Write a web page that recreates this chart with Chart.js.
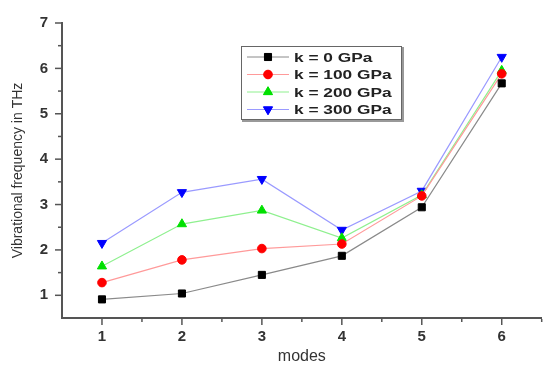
<!DOCTYPE html>
<html>
<head>
<meta charset="utf-8">
<script src="https://cdn.jsdelivr.net/npm/chart.js@4"></script>
<style>
html,body{margin:0;padding:0;background:#fff;overflow:hidden}
#wrap{width:548px;height:369px}
</style>
</head>
<body>
<div id="wrap"><canvas id="c" width="548" height="369"></canvas></div>
<script>
// modes on the x axis, frequency (THz) per stiffness k
const modes=[1,2,3,4,5,6];
const k0=[0.91,1.04,1.45,1.87,2.94,5.67];
const k100=[1.28,1.78,2.03,2.13,3.19,5.88];
const k200=[1.64,2.57,2.87,2.26,3.21,5.95];
const k300=[2.15,3.27,3.56,2.44,3.30,6.25];
const names=['k = 0 GPa','k = 100 GPa','k = 200 GPa','k = 300 GPa'];
const yTicks=[1,2,3,4,5,6,7];

const S=[
  {vals:k0,line:'#8a8a8a',pt:'#000',style:'rect',r:5,rot:0},
  {vals:k100,line:'#ff9a9a',pt:'#ff0000',style:'circle',r:4.3,rot:0},
  {vals:k200,line:'#8ff08f',pt:'#00e000',style:'triangle',r:5.3,rot:0},
  {vals:k300,line:'#9a9aff',pt:'#0000ff',style:'triangle',r:5.3,rot:180}
];

const ticksPlugin={id:'ticks',afterDraw(ch){
  const c=ch.ctx,x=ch.scales.x,y=ch.scales.y,a=ch.chartArea;
  c.save();c.strokeStyle='#555';c.lineWidth=1.5;
  for(let v=1;v<=7;v+=0.5){const p=y.getPixelForValue(v),L=Number.isInteger(v)?6:3;
    c.beginPath();c.moveTo(a.left-1,p);c.lineTo(a.left-1-L,p);c.stroke();}
  for(let v=1;v<=6.5;v+=0.5){const p=x.getPixelForValue(v),L=Number.isInteger(v)?6:3;
    c.beginPath();c.moveTo(p,a.bottom+1);c.lineTo(p,a.bottom+1+L);c.stroke();}
  c.restore();
}};

const legendPlugin={id:'box',afterDraw(ch){
  const c=ch.ctx;
  c.save();
  c.fillStyle='#fff';c.fillRect(241,46,161,74);
  c.strokeStyle='#999';c.lineWidth=2;c.beginPath();
  c.moveTo(403,47);c.lineTo(403,121);c.lineTo(242,121);c.stroke();
  c.strokeStyle='#666';c.lineWidth=1;c.strokeRect(241.5,46.5,160,73);
  S.forEach((s,i)=>{
    const yy=57+i*17.5;
    c.strokeStyle=s.line;c.lineWidth=1;c.beginPath();c.moveTo(247,yy);c.lineTo(289,yy);c.stroke();
    c.fillStyle=s.pt;c.strokeStyle=s.pt;
    Chart.helpers.drawPoint(c,{pointStyle:s.style,radius:s.r,rotation:s.rot,borderWidth:1},268,yy);
    c.fill();
    c.save();c.translate(294,yy);c.scale(1.33,1);
    c.fillStyle='#222';c.font='bold 13px "Liberation Sans", Arial, sans-serif';c.textBaseline='middle';
    c.fillText(names[i],0,1);c.restore();
  });
  c.restore();
}};

new Chart(document.getElementById('c'),{type:'line',
  data:{datasets:S.map((s,i)=>({label:names[i],
    data:modes.map((m,j)=>({x:m,y:s.vals[j]})),
    borderColor:s.line,borderWidth:1.2,tension:0,
    pointStyle:s.style,pointRadius:s.r,pointRotation:s.rot,
    pointBackgroundColor:s.pt,pointBorderColor:s.pt,pointBorderWidth:1}))},
  options:{responsive:false,animation:false,
    layout:{padding:{top:14,left:0,right:0,bottom:0}},
    plugins:{legend:{display:false},tooltip:{enabled:false}},
    scales:{
      x:{type:'linear',min:0.5,max:6.5,
        afterBuildTicks:sc=>{sc.ticks=modes.map(v=>({value:v}));},
        afterFit:sc=>{sc.height=51;},
        grid:{display:true,drawOnChartArea:false,drawTicks:false},
        border:{display:true,color:'#555',width:2},
        ticks:{padding:10,color:'#333',font:{size:15,weight:'bold',family:'"Liberation Sans", Arial'}},
        title:{display:true,text:'modes',color:'#333',padding:{top:0,bottom:3},
          font:{size:16,family:'"Liberation Sans", Arial'}}},
      y:{min:0.5,max:7,
        afterBuildTicks:sc=>{sc.ticks=yTicks.map(v=>({value:v}));},
        afterFit:sc=>{sc.width=62;},
        grid:{display:true,drawOnChartArea:false,drawTicks:false},
        border:{display:true,color:'#555',width:2},
        ticks:{padding:14,color:'#333',font:{size:15,weight:'bold',family:'"Liberation Sans", Arial'}},
        title:{display:true,text:'Vibrational frequency in THz',color:'#333',padding:{top:10,bottom:0},
          font:{size:14,family:'"Liberation Sans", Arial'}}}
    }},
  plugins:[ticksPlugin,legendPlugin]
});
</script>
</body>
</html>
